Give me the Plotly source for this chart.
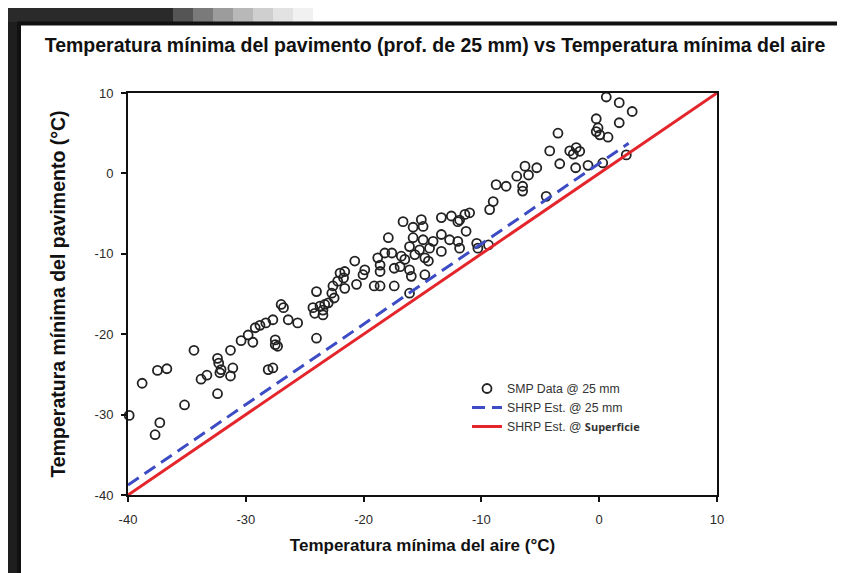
import plotly.graph_objects as go

# ---------------- data ----------------
smp_air = [
    -34.4, -37.5, -36.7, -38.8, -32.4, -32.3, -32.1, -32.2, -31.3, -31.1, -31.3, -33.8, -33.3,
    -32.4, -35.2, -30.4, -29.8, -29.4, -29.2, -28.8, -28.3, -27.7, -28.1, -27.7, -37.3, -37.7,
    -39.9, -41.3,
    -20.75, -18.8, -18.2, -17.6, -18.6, -18.6, -19.9, -20.05, -17.4, -22.0, -21.6, -21.7, -22.2,
    -21.6, -22.6, -20.6, -19.1, -18.6, -17.4, -24.0, -22.5, -22.7, -23.0, -23.3, -24.3, -24.15,
    -23.45, -23.45, -23.7, -27.0, -26.8, -26.4, -25.6, -27.5, -27.5, -27.3, -24.0,
    -9.0, -9.3, -13.4, -12.55, -11.85, -11.4, -11.0, -12.0, -11.3, -16.65, -15.8, -15.1, -14.95,
    -17.9, -15.8, -14.95, -14.1, -13.4, -12.7, -12.0, -16.1, -15.25, -14.4, -13.4, -11.85,
    -16.8, -16.5, -15.65, -14.8, -14.5, -16.9, -16.1, -15.95, -14.8, -16.1, -10.4, -10.3, -9.4,
    0.6, 1.7, 2.8, -0.25, 1.7, -0.1, -0.25, 0.05, 0.75, -3.5, -4.2, -2.5, -1.95, -1.65, -2.2,
    -3.35, -2.0, -0.95, 0.3, 2.3, -6.3, -6.0, -5.3, -7.0, -7.9, -8.75, -6.5, -6.5, -4.5,
]
smp_pav = [
    -22.0, -24.5, -24.3, -26.1, -23.0, -23.6, -24.4, -24.8, -22.0, -24.2, -25.2, -25.6, -25.1,
    -27.4, -28.8, -20.8, -20.1, -21.0, -19.2, -18.9, -18.6, -18.2, -24.4, -24.2, -31.0, -32.5,
    -30.1, -33.2,
    -10.9, -10.5, -9.9, -9.9, -11.4, -12.2, -12.0, -12.6, -11.8, -12.4, -12.2, -13.0, -13.4,
    -14.3, -14.0, -13.8, -14.0, -14.0, -14.0, -14.7, -15.5, -14.9, -16.1, -16.3, -16.7, -17.4,
    -17.6, -17.0, -16.5, -16.3, -16.7, -18.2, -18.6, -20.7, -21.3, -21.5, -20.5,
    -3.5, -4.5, -5.5, -5.3, -5.8, -5.1, -4.9, -6.0, -7.2, -6.0, -6.7, -5.75, -6.6,
    -8.0, -8.0, -8.25, -8.45, -7.6, -8.25, -8.45, -9.1, -9.5, -9.3, -9.7, -9.3,
    -10.3, -10.7, -10.1, -10.5, -10.9, -11.6, -12.0, -12.8, -12.6, -14.9, -8.7, -9.3, -8.9,
    9.5, 8.8, 7.7, 6.8, 6.3, 5.65, 5.2, 4.8, 4.5, 5.0, 2.8, 2.8, 3.2, 2.75, 2.4,
    1.2, 0.7, 1.0, 1.3, 2.3, 0.9, -0.2, 0.7, -0.35, -1.6, -1.4, -1.6, -2.2, -2.85,
]
shrp25_air = [-40.0, 2.5]
shrp25_pav = [-38.76, 3.74]
shrp_surf_air = [-40.0, 10.0]
shrp_surf_pav = [-40.0, 10.0]
tick_vals = [-40, -30, -20, -10, 0, 10]
tick_text = ["-40", "-30", "-20", "-10", "0", "10"]

# ---------------- layout helpers ----------------
W, H = 845, 573
ML, MR, MT, MB = 120, 136, 85, 86
PW, PH = W - ML - MR, H - MT - MB


def px2x(px):
    return (px - ML) / PW


def py2y(py):
    return (H - MB - py) / PH


fig = go.Figure()

fig.add_trace(go.Scatter(
    x=smp_air, y=smp_pav, mode="markers", name="SMP Data @ 25 mm",
    marker=dict(symbol="circle-open", size=9, color="#222222", line=dict(width=1.8)),
    cliponaxis=False,
))
fig.add_trace(go.Scatter(
    x=shrp25_air, y=shrp25_pav, mode="lines", name="SHRP Est. @ 25 mm",
    line=dict(color="#3d4cc4", width=3, dash="13px,7px"),
))
fig.add_trace(go.Scatter(
    x=shrp_surf_air, y=shrp_surf_pav, mode="lines",
    name="SHRP Est. @ <b><span style='font-family:Open Sans;font-size:11px'>Superficie</span></b>",
    line=dict(color="#e4262c", width=3),
    cliponaxis=False,
))

shapes = [
    dict(type="rect", xref="paper", yref="paper", x0=px2x(0), x1=px2x(10), y0=py2y(573), y1=py2y(0),
         fillcolor="#1e1e1e", line=dict(width=0), layer="below"),
    dict(type="rect", xref="paper", yref="paper", x0=px2x(0), x1=px2x(165), y0=py2y(14), y1=py2y(0),
         fillcolor="#2a2a2a", line=dict(width=0), layer="below"),
]
grad = ["#555555", "#7a7a7a", "#9c9c9c", "#b8b8b8", "#cfcfcf", "#e2e2e2", "#f1f1f1"]
for i, c in enumerate(grad):
    shapes.append(dict(type="rect", xref="paper", yref="paper",
                       x0=px2x(165 + i * 20), x1=px2x(185 + i * 20), y0=py2y(14), y1=py2y(0),
                       fillcolor=c, line=dict(width=0), layer="below"))
shapes += [
    dict(type="line", xref="paper", yref="paper", x0=px2x(9), x1=px2x(845), y0=py2y(15.5), y1=py2y(15.5),
         line=dict(color="#111111", width=4), layer="below"),
    dict(type="line", xref="paper", yref="paper", x0=px2x(11), x1=px2x(11), y0=py2y(14), y1=py2y(573),
         line=dict(color="#111111", width=4), layer="below"),
]

axis_common = dict(
    range=[-40, 10], tickvals=tick_vals, ticktext=tick_text,
    showgrid=False, zeroline=False, showline=True, linecolor="#111111", linewidth=2,
    mirror=True, ticks="outside", ticklen=5, tickwidth=2, tickcolor="#111111",
    tickfont=dict(family="Liberation Sans", size=13, color="#2a2a2a"),
)

fig.update_layout(
    width=W, height=H,
    margin=dict(l=ML, r=MR, t=MT, b=MB),
    paper_bgcolor="white", plot_bgcolor="white",
    title=dict(
        text="<b>Temperatura mínima del pavimento (prof. de 25 mm) vs Temperatura mínima del aire</b>",
        x=427 / W, xanchor="center", y=1 - 37 / H, yanchor="middle",
        font=dict(family="Liberation Sans", size=19.5, color="#111111"),
    ),
    xaxis=dict(**axis_common, ticklabelstandoff=6,
               title=dict(text="<b>Temperatura mínima del aire (°C)</b>", standoff=14,
                          font=dict(family="Liberation Sans", size=17, color="#111111"))),
    yaxis=dict(**axis_common, ticklabelstandoff=5,
               title=dict(text="<b>Temperatura mínima del pavimento (°C)</b>", standoff=24,
                          font=dict(family="Liberation Sans", size=19.5, color="#111111"))),
    legend=dict(x=px2x(459), y=py2y(366), xanchor="left", yanchor="top",
                bgcolor="rgba(0,0,0,0)", tracegroupgap=0,
                font=dict(family="Liberation Sans", size=12.3, color="#333333")),
    shapes=shapes,
    showlegend=True,
)

fig.write_html("out.html")
